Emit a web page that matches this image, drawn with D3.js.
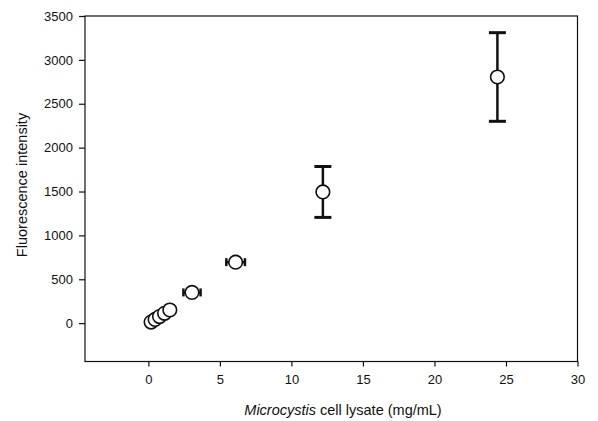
<!DOCTYPE html>
<html>
<head>
<meta charset="utf-8">
<script src="https://cdn.jsdelivr.net/npm/d3@7"></script>
<style>
  body { margin: 0; background: #fff; }
  text { font-family: "Liberation Sans", Arial, sans-serif; fill: #111; }
</style>
</head>
<body>
<div id="chart"></div>
<script>
// lysate concentration (mg/mL) and fluorescence readings
var conc = [0.19, 0.47, 0.78, 1.13, 1.5, 3.05, 6.1, 12.2, 24.4];
var fluor = [12, 42, 75, 112, 150, 350, 695, 1495, 2805];
var fluorErr = [0, 0, 0, 0, 0, 0, 0, 290, 505];
var concErr = [0, 0, 0, 0, 0, 0.6, 0.65, 0, 0];

var xTicks = [0, 5, 10, 15, 20, 25, 30];
var yTicks = [0, 500, 1000, 1500, 2000, 2500, 3000, 3500];

var svgWidth = 598, svgHeight = 421;
var plotLeft = 85, plotRight = 577.5, plotTop = 16, plotBottom = 361.5;

var data = conc.map(function(c, i) {
  return {x: c, y: fluor[i], ey: fluorErr[i], ex: concErr[i]};
});

var xscale = d3.scaleLinear().domain([-4.43, 30]).range([plotLeft, plotRight]);
var yscale = d3.scaleLinear().domain([-437, 3500]).range([plotBottom, plotTop]);

var svg = d3.select("#chart").append("svg")
  .attr("width", svgWidth)
  .attr("height", svgHeight);

// frame
svg.append("rect")
  .attr("x", plotLeft).attr("y", plotTop)
  .attr("width", plotRight - plotLeft).attr("height", plotBottom - plotTop)
  .attr("fill", "none").attr("stroke", "#111").attr("stroke-width", 1.2);

var xAxis = d3.axisBottom(xscale).tickValues(xTicks).tickFormat(d3.format("d"))
  .tickSize(5).tickPadding(8).tickSizeOuter(0);
var yAxis = d3.axisLeft(yscale).tickValues(yTicks).tickFormat(d3.format("d"))
  .tickSize(6).tickPadding(6).tickSizeOuter(0);

var gx = svg.append("g")
  .attr("transform", "translate(0," + plotBottom + ")")
  .call(xAxis);
var gy = svg.append("g")
  .attr("transform", "translate(" + plotLeft + ",0)")
  .call(yAxis);

[gx, gy].forEach(function(g) {
  g.select(".domain").remove();
  g.selectAll(".tick line").attr("stroke", "#111").attr("stroke-width", 1.2);
  g.selectAll("text")
    .style("font-size", "13px")
    .style("font-family", "'Liberation Sans', Arial, sans-serif")
    .attr("fill", "#111");
});

// axis titles
var xt = svg.append("text")
  .attr("x", 343)
  .attr("y", 415)
  .attr("text-anchor", "middle")
  .style("font-size", "14.5px");
xt.append("tspan").style("font-style", "italic").text("Microcystis");
xt.append("tspan").text(" cell lysate (mg/mL)");

svg.append("text")
  .attr("transform", "translate(27,185) rotate(-90)")
  .attr("text-anchor", "middle")
  .style("font-size", "14.5px")
  .text("Fluorescence intensity");

// vertical error bars
var ybars = data.filter(d => d.ey > 0);
svg.selectAll(".ebar")
  .data(ybars)
  .enter().append("line")
  .attr("x1", d => xscale(d.x)).attr("x2", d => xscale(d.x))
  .attr("y1", d => yscale(d.y - d.ey)).attr("y2", d => yscale(d.y + d.ey))
  .attr("stroke", "#111").attr("stroke-width", 2.5);
svg.selectAll(".ecap")
  .data(ybars.flatMap(d => [[d.x, d.y - d.ey], [d.x, d.y + d.ey]]))
  .enter().append("line")
  .attr("x1", d => xscale(d[0]) - 8.5).attr("x2", d => xscale(d[0]) + 8.5)
  .attr("y1", d => yscale(d[1])).attr("y2", d => yscale(d[1]))
  .attr("stroke", "#111").attr("stroke-width", 3);

// horizontal error bars
var xbars = data.filter(d => d.ex > 0);
svg.selectAll(".hbar")
  .data(xbars)
  .enter().append("line")
  .attr("x1", d => xscale(d.x - d.ex)).attr("x2", d => xscale(d.x + d.ex))
  .attr("y1", d => yscale(d.y)).attr("y2", d => yscale(d.y))
  .attr("stroke", "#111").attr("stroke-width", 2.5);
svg.selectAll(".hcap")
  .data(xbars.flatMap(d => [[d.x - d.ex, d.y], [d.x + d.ex, d.y]]))
  .enter().append("line")
  .attr("x1", d => xscale(d[0])).attr("x2", d => xscale(d[0]))
  .attr("y1", d => yscale(d[1]) - 4).attr("y2", d => yscale(d[1]) + 4)
  .attr("stroke", "#111").attr("stroke-width", 2.5);

// points
svg.selectAll(".pt")
  .data(data)
  .enter().append("circle")
  .attr("cx", d => xscale(d.x))
  .attr("cy", d => yscale(d.y))
  .attr("r", 6.8)
  .attr("fill", "#fff")
  .attr("stroke", "#111")
  .attr("stroke-width", 1.6);
</script>
</body>
</html>
